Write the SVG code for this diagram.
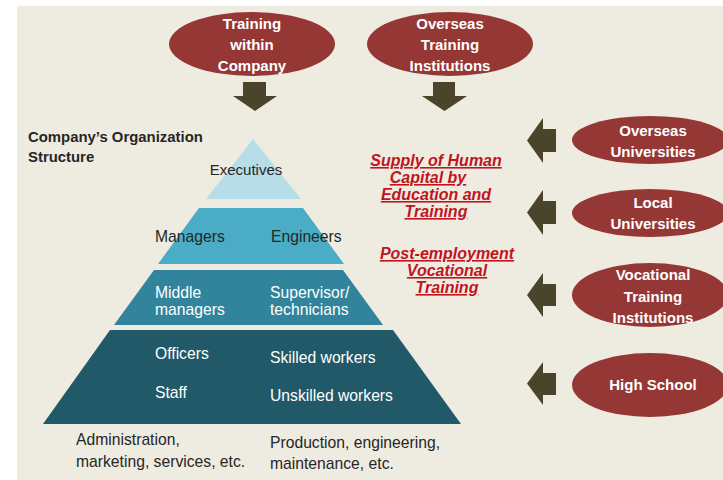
<svg xmlns="http://www.w3.org/2000/svg" width="723" height="480" viewBox="0 0 723 480">
<defs>
<style>
.bg{fill:#EEECE1}
.ell{fill:#953735}
.arr{fill:#4A452A}
.et{font-family:"Liberation Sans",Arial,sans-serif;font-weight:bold;font-size:15px;fill:#FFFFFF;text-anchor:middle}
.dk{font-family:"Liberation Sans",Arial,sans-serif;font-size:15.7px;fill:#262626}
.wt{font-family:"Liberation Sans",Arial,sans-serif;font-size:15.7px;fill:#FFFFFF}
.ttl{font-family:"Liberation Sans",Arial,sans-serif;font-weight:bold;font-size:14.9px;fill:#262626}
.rd{font-family:"Liberation Sans",Arial,sans-serif;font-weight:bold;font-style:italic;font-size:16px;fill:#C0141E;text-anchor:middle;text-decoration:underline}
</style>
</defs>
<rect x="0" y="0" width="723" height="480" fill="#FFFFFF"/>
<rect class="bg" x="17" y="6" width="706" height="474"/>

<g id="title">
<text class="ttl" x="28" y="142">Company’s Organization</text>
<text class="ttl" x="28" y="162">Structure</text>
</g>

<g id="tier-executives">
<polygon points="253,139 301,199 206,199" fill="#B6DDE8"/>
<text class="dk" x="246" y="175" text-anchor="middle" style="font-size:15px">Executives</text>
</g>
<g id="tier-managers">
<polygon points="199,208 303,208 344,264 158,264" fill="#4BACC6"/>
<text class="dk" x="155" y="242">Managers</text>
<text class="dk" x="271" y="242">Engineers</text>
</g>
<g id="tier-middle">
<polygon points="154,270 343,270 383,325 114,325" fill="#31849B"/>
<text class="wt" x="155" y="298">Middle</text>
<text class="wt" x="155" y="315">managers</text>
<text class="wt" x="270" y="298">Supervisor/</text>
<text class="wt" x="270" y="315">technicians</text>
</g>
<g id="tier-staff">
<polygon points="110,330 393,330 461,424 43,424" fill="#215968"/>
<text class="wt" x="155" y="359">Officers</text>
<text class="wt" x="270" y="363">Skilled workers</text>
<text class="wt" x="155" y="398">Staff</text>
<text class="wt" x="270" y="401">Unskilled workers</text>
</g>
<g id="caption-left">
<text class="dk" x="76" y="445">Administration,</text>
<text class="dk" x="76" y="467">marketing, services, etc.</text>
</g>
<g id="caption-right">
<text class="dk" x="270" y="448">Production, engineering,</text>
<text class="dk" x="270" y="469">maintenance, etc.</text>
</g>

<g id="label-supply">
<text class="rd" x="436" y="166">Supply of Human</text>
<text class="rd" x="428" y="183">Capital by</text>
<text class="rd" x="436" y="200">Education and</text>
<text class="rd" x="436" y="217">Training</text>
</g>
<g id="label-post">
<text class="rd" x="447" y="259">Post-employment</text>
<text class="rd" x="447" y="276">Vocational</text>
<text class="rd" x="447" y="293">Training</text>
</g>

<g id="node-training-within">
<ellipse class="ell" cx="252" cy="44" rx="83" ry="32"/>
<text class="et" x="252" y="29">Training</text>
<text class="et" x="252" y="50">within</text>
<text class="et" x="252" y="71">Company</text>
</g>
<g id="node-overseas-training">
<ellipse class="ell" cx="450" cy="44" rx="83" ry="32"/>
<text class="et" x="450" y="29">Overseas</text>
<text class="et" x="450" y="50">Training</text>
<text class="et" x="450" y="71">Institutions</text>
</g>
<g id="node-overseas-univ">
<ellipse class="ell" cx="650" cy="140" rx="78" ry="24"/>
<text class="et" x="653" y="136">Overseas</text>
<text class="et" x="653" y="157">Universities</text>
</g>
<g id="node-local-univ">
<ellipse class="ell" cx="650" cy="213" rx="78" ry="24"/>
<text class="et" x="653" y="208">Local</text>
<text class="et" x="653" y="229">Universities</text>
</g>
<g id="node-vocational">
<ellipse class="ell" cx="650" cy="295" rx="78" ry="32"/>
<text class="et" x="653" y="280">Vocational</text>
<text class="et" x="653" y="302">Training</text>
<text class="et" x="653" y="323">Institutions</text>
</g>
<g id="node-highschool">
<ellipse class="ell" cx="650" cy="385" rx="78" ry="32"/>
<text class="et" x="653" y="390">High School</text>
</g>

<g id="connectors">
<polygon class="arr" points="243,82 266,82 266,96 277,96 255,111 233,96 243,96"/>
<polygon class="arr" points="433,82 455,82 455,96 467,96 444.5,111 422,96 433,96"/>
<polygon class="arr" points="556,129 543,129 543,118 527,140.5 543,163 543,152 556,152"/>
<polygon class="arr" points="556,201 543,201 543,190 527,212.5 543,235 543,224 556,224"/>
<polygon class="arr" points="556,284 543,284 543,273 527,295 543,317 543,306 556,306"/>
<polygon class="arr" points="556,373 543,373 543,362 527,383.5 543,405 543,395 556,395"/>
</g>
</svg>
